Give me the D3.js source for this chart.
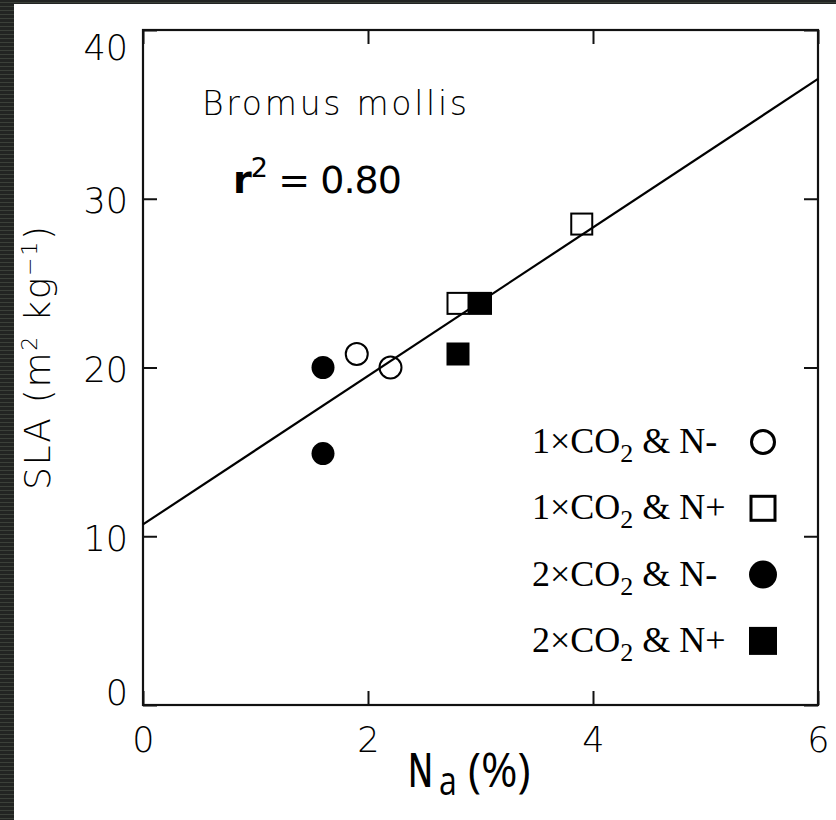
<!DOCTYPE html>
<html>
<head>
<meta charset="utf-8">
<script src="https://cdn.jsdelivr.net/npm/d3@7"></script>
<style>
  html, body { margin: 0; padding: 0; background: #ffffff; }
  svg { display: block; }
</style>
</head>
<body>
<svg id="chart" width="836" height="820"></svg>
<script>
// ---------------- data ----------------
const xTicks = [0, 2, 4, 6];
const yTicks = [0, 10, 20, 30, 40];
const xDomain = [0, 6];
const yDomain = [0, 40];

const categories = ["1×CO2 & N-", "1×CO2 & N+", "2×CO2 & N-", "2×CO2 & N+"];

// 1×CO2 & N-  (open circles)
const amb_Nlow_x = [1.9, 2.2];
const amb_Nlow_y = [20.8, 20.0];
// 1×CO2 & N+  (open squares)
const amb_Nhigh_x = [2.8, 3.9];
const amb_Nhigh_y = [23.8, 28.5];
// 2×CO2 & N-  (filled circles)
const elev_Nlow_x = [1.6, 1.6];
const elev_Nlow_y = [20.0, 14.9];
// 2×CO2 & N+  (filled squares)
const elev_Nhigh_x = [2.8, 3.0];
const elev_Nhigh_y = [20.8, 23.8];

// regression line SLA = a + b * Na
const fitIntercept = 10.7;
const fitSlope = 4.4;
const r2Text = "0.80";
const speciesName = "Bromus mollis";

// ---------------- drawing ----------------
const svg = d3.select("#chart");
const W = 836, H = 820;
const plot = { left: 143, right: 818, top: 30, bottom: 705 };

// background (photo border)
const defs = svg.append("defs");
const pat = defs.append("pattern").attr("id", "stripes")
  .attr("width", 14).attr("height", 4).attr("patternUnits", "userSpaceOnUse");
pat.append("rect").attr("width", 14).attr("height", 4).attr("fill", "#222422");
pat.append("rect").attr("y", 2).attr("width", 14).attr("height", 1).attr("fill", "#3b4039");
svg.append("rect").attr("x", 0).attr("y", 0).attr("width", W).attr("height", H).attr("fill", "url(#stripes)");
svg.append("rect").attr("x", 14).attr("y", 4).attr("width", W - 14).attr("height", H - 4).attr("fill", "#ffffff");

const x = d3.scaleLinear().domain(xDomain).range([plot.left, plot.right]);
const y = d3.scaleLinear().domain(yDomain).range([plot.bottom, plot.top]);

const thinFont = "'DejaVu Sans', sans-serif";

// axes
const tickLen = 14;
const gx = svg.append("g").attr("transform", `translate(0,${plot.bottom})`)
  .call(d3.axisBottom(x).tickValues(xTicks).tickSize(-tickLen).tickSizeOuter(0).tickPadding(22).tickFormat(d3.format("d")));
const gy = svg.append("g").attr("transform", `translate(${plot.left},0)`)
  .call(d3.axisLeft(y).tickValues(yTicks).tickSize(-tickLen).tickSizeOuter(0).tickPadding(15).tickFormat(d3.format("d")));
const gt = svg.append("g").attr("transform", `translate(0,${plot.top})`)
  .call(d3.axisTop(x).tickValues(xTicks).tickSize(-tickLen).tickSizeOuter(0).tickFormat(""));
const gr = svg.append("g").attr("transform", `translate(${plot.right},0)`)
  .call(d3.axisRight(y).tickValues(yTicks).tickSize(-tickLen).tickSizeOuter(0).tickFormat(""));

[gx, gy, gt, gr].forEach(g => {
  g.select(".domain").remove();
  g.selectAll(".tick line").attr("stroke", "#111").attr("stroke-width", 2);
  g.selectAll("text").attr("font-family", thinFont).attr("font-weight", 200)
    .attr("font-size", 35).attr("fill", "#000");
});
gx.selectAll(".tick text").attr("dy", "0.71em");
// y labels: end labels sit inside the frame as in the original
gy.selectAll(".tick text").attr("dy", d => {
  if (d === yDomain[1]) return 17 + 12;
  if (d === yDomain[0]) return -13 + 12;
  return 2 + 12;
});

// frame
svg.append("rect")
  .attr("x", plot.left).attr("y", plot.top)
  .attr("width", plot.right - plot.left).attr("height", plot.bottom - plot.top)
  .attr("fill", "none").attr("stroke", "#111").attr("stroke-width", 2.2);

// regression line
svg.append("line")
  .attr("x1", x(xDomain[0])).attr("y1", y(fitIntercept + fitSlope * xDomain[0]))
  .attr("x2", x(xDomain[1])).attr("y2", y(fitIntercept + fitSlope * xDomain[1]))
  .attr("stroke", "#000").attr("stroke-width", 2.2);

// markers
function pts(xs, ys) { return xs.map((v, i) => ({ x: v, y: ys[i] })); }
const mk = svg.append("g");
mk.selectAll("circle.on").data(pts(amb_Nlow_x, amb_Nlow_y)).join("circle")
  .attr("cx", d => x(d.x)).attr("cy", d => y(d.y)).attr("r", 11)
  .attr("fill", "none").attr("stroke", "#000").attr("stroke-width", 2);
mk.selectAll("rect.os").data(pts(amb_Nhigh_x, amb_Nhigh_y)).join("rect")
  .attr("x", d => x(d.x) - 10.5).attr("y", d => y(d.y) - 10.5).attr("width", 21).attr("height", 21)
  .attr("fill", "none").attr("stroke", "#000").attr("stroke-width", 2);
mk.selectAll("circle.fc").data(pts(elev_Nlow_x, elev_Nlow_y)).join("circle")
  .attr("class", "fc")
  .attr("cx", d => x(d.x)).attr("cy", d => y(d.y)).attr("r", 11.5).attr("fill", "#000");
mk.selectAll("rect.fs").data(pts(elev_Nhigh_x, elev_Nhigh_y)).join("rect")
  .attr("class", "fs")
  .attr("x", d => x(d.x) - 11.5).attr("y", d => y(d.y) - 11.5).attr("width", 23).attr("height", 23).attr("fill", "#000");

// species name
svg.append("text").attr("x", 202).attr("y", 115)
  .attr("font-family", thinFont).attr("font-weight", 200).attr("font-size", 33)
  .attr("textLength", 265).attr("lengthAdjust", "spacing").attr("fill", "#000")
  .text(speciesName);

// r^2
const rt = svg.append("text").attr("x", 233).attr("y", 193)
  .attr("font-family", "'DejaVu Sans', sans-serif").attr("font-size", 38).attr("fill", "#000")
  .attr("textLength", 169).attr("lengthAdjust", "spacing");
rt.append("tspan").attr("font-weight", 600).text("r");
rt.append("tspan").attr("font-size", 27).attr("dy", -16).text("2");
rt.append("tspan").attr("dy", 16).text(" = " + r2Text);

// x axis title (N, subscript a, (%)) — narrow geometric face emulated by horizontal scaling
const xtFont = "'Open Sans', sans-serif";
svg.append("text").attr("transform", "translate(408,787) scale(0.68,1)")
  .attr("font-family", xtFont).attr("font-weight", 600).attr("font-size", 47).attr("fill", "#000").text("N");
svg.append("text").attr("transform", "translate(439,795) scale(0.8,1)")
  .attr("font-family", xtFont).attr("font-size", 40).attr("fill", "#000").text("a");
svg.append("text").attr("transform", "translate(468,787) scale(0.94,1)")
  .attr("font-family", xtFont).attr("font-size", 47).attr("fill", "#000").text("(%)");

// y axis title
const yt = svg.append("text").attr("transform", "translate(50,358) rotate(-90)")
  .attr("text-anchor", "middle")
  .attr("font-family", thinFont).attr("font-weight", 200).attr("font-size", 36).attr("fill", "#000")
  .attr("textLength", 264).attr("lengthAdjust", "spacing");
yt.append("tspan").text("SLA (m");
yt.append("tspan").attr("font-size", 22).attr("dy", -13).text("2");
yt.append("tspan").attr("dy", 13).text(" kg");
yt.append("tspan").attr("font-size", 22).attr("dy", -13).text("−1");
yt.append("tspan").attr("dy", 13).text(")");

// legend
const legend = svg.append("g");
const rowStep = 66.3, row0 = 453, textX = 532, markX = 763;
categories.forEach((c, i) => {
  const by = row0 + i * rowStep;
  const m = c.match(/^(.*CO)2(.*)$/);
  const t = legend.append("text").attr("x", textX).attr("y", by)
    .attr("font-family", "'Liberation Serif', 'Times New Roman', serif").attr("font-size", 36).attr("fill", "#000");
  t.append("tspan").text(m[1]);
  t.append("tspan").attr("font-size", 26).attr("dy", 9).text("2");
  t.append("tspan").attr("dy", -9).text(m[2]);
  const cy = by - 11;
  if (i === 0) legend.append("circle").attr("cx", markX).attr("cy", cy).attr("r", 11.5)
      .attr("fill", "none").attr("stroke", "#000").attr("stroke-width", 3);
  if (i === 1) legend.append("rect").attr("x", markX - 12).attr("y", cy - 12).attr("width", 24).attr("height", 24)
      .attr("fill", "none").attr("stroke", "#000").attr("stroke-width", 3);
  if (i === 2) legend.append("circle").attr("cx", markX).attr("cy", cy).attr("r", 14).attr("fill", "#000");
  if (i === 3) legend.append("rect").attr("x", markX - 14).attr("y", cy - 14).attr("width", 28).attr("height", 28).attr("fill", "#000");
});
</script>
</body>
</html>
